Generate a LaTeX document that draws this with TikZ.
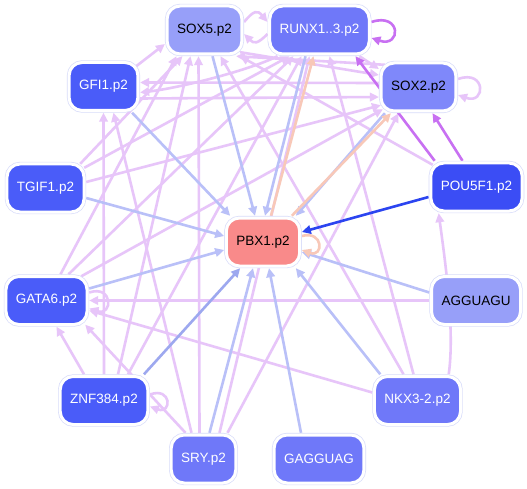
\documentclass[tikz,border=0pt]{standalone}
\usepackage{fontspec}
\setmainfont{Liberation Sans}
\usetikzlibrary{arrows.meta,calc}
\pgfdeclarelayer{bg}
\pgfdeclarelayer{edges}
\pgfsetlayers{bg,edges,main}
\definecolor{halo}{HTML}{D8DCFA}
\definecolor{clight}{HTML}{979FF9}
\definecolor{cmid}{HTML}{6F78F9}
\definecolor{csox}{HTML}{7F88FA}
\definecolor{cdark}{HTML}{4A5CF9}
\definecolor{cpou}{HTML}{3B4DF5}
\definecolor{cpbx}{HTML}{F98A8A}
\definecolor{elp}{HTML}{E7C5F9}
\definecolor{elb}{HTML}{B9C0F8}
\definecolor{emb}{HTML}{9DA8EF}
\definecolor{esp}{HTML}{C870F2}
\definecolor{epe}{HTML}{F8C8B8}
\definecolor{edb}{HTML}{2B44F0}
\begin{document}
\begin{tikzpicture}[x=1pt,y=-1pt,
  nd/.style={rounded corners=13pt, minimum height=48pt, inner xsep=10pt, inner ysep=0pt,
    draw=white, line width=3pt, preaction={draw=halo, line width=4.4pt}, outer sep=2.2pt,
    font=\fontsize{13.5}{16}\selectfont},
  ed/.style={line width=2.6pt, -{Triangle[length=9pt,width=8.5pt]}},
  lp/.style={ed, draw=elp},
  lb/.style={ed, draw=elb},
  mb/.style={ed, draw=emb},
  sp/.style={ed, draw=esp},
  pe/.style={ed, draw=epe},
  db/.style={ed, draw=edb}]
\useasboundingbox (0,0) rectangle (527,489);
\begin{pgfonlayer}{bg}
\fill[white] (0,0) rectangle (527,489);
\end{pgfonlayer}
\node[nd, fill=clight, text=black] (s5) at (204.5,30) {SOX5.p2};
\node[nd, fill=cmid, text=white] (ru) at (319.5,30) {RUNX1..3.p2};
\node[nd, fill=csox, text=black] (s2) at (418.5,87) {SOX2.p2};
\node[nd, fill=cdark, text=white] (gf) at (103.5,86.5) {GFI1.p2};
\node[nd, fill=cdark, text=white] (tg) at (45.5,188) {TGIF1.p2};
\node[nd, fill=cpou, text=white] (po) at (476.5,187) {POU5F1.p2};
\node[nd, fill=cpbx, text=black] (pb) at (263,242) {PBX1.p2};
\node[nd, fill=cdark, text=white] (ga) at (46.5,300.5) {GATA6.p2};
\node[nd, fill=clight, text=black] (ag) at (476,300.5) {AGGUAGU};
\node[nd, fill=cdark, text=white] (zn) at (104,400.5) {ZNF384.p2};
\node[nd, fill=cmid, text=white] (nk) at (417.5,400.5) {NKX3-2.p2};
\node[nd, fill=cmid, text=white] (sr) at (203.5,459) {SRY.p2};
\node[nd, fill=cmid, text=white] (gg) at (319,459) {GAGGUAG};
\begin{pgfonlayer}{edges}
% light purple
\draw[lp] ($(s5.east)+(0,-8)$) .. controls +(10,-12) and +(-10,-12) .. ($(ru.west)+(0,-8)$);
\draw[lp] ($(ru.west)+(0,4)$) .. controls +(-10,10) and +(10,10) .. ($(s5.east)+(0,4)$);
\draw[lp] ($(gf.north east)+(-4,6)$) -- ($(s5.west)+(0,14)$);
\draw[lp] ($(gf.east)+(0,12)$) -- ($(s2.west)+(0,10)$);
\draw[lp] ($(s2.west)+(0,-4)$) -- ($(gf.east)+(0,-4)$);
\draw[lp] ($(ru.south west)+(10,0)$) .. controls (250,70) and (180,88) .. ($(gf.east)+(0,6)$);
\draw[lp] ($(s5.south east)+(-4,-4)$) -- ($(s2.west)+(0,-12)$);
\draw[lp] ($(s2.north west)+(6,4)$) -- ($(s5.south east)+(-8,0)$);
\draw[lp] ($(ru.south east)+(-12,0)$) -- ($(s2.west)+(0,-18)$);
\draw[lp] ($(s2.east)+(0,-8)$) .. controls +(28,-10) and +(28,10) .. ($(s2.east)+(0,8)$);
\draw[lp] ($(tg.north east)+(-6,2)$) -- ($(s5.south)+(-22,0)$);
\draw[lp] ($(tg.north east)+(-2,6)$) -- ($(ru.south)+(-30,0)$);
\draw[lp] ($(tg.east)+(0,-6)$) -- ($(s2.south west)+(2,-8)$);
\draw[lp] ($(ga.north)+(14,0)$) -- ($(s5.south)+(-28,0)$);
\draw[lp] ($(ga.north)+(22,0)$) -- ($(ru.south)+(-26,0)$);
\draw[lp] ($(ga.north east)+(-8,2)$) -- ($(s2.south west)+(4,-4)$);
\draw[lp] ($(ga.east)+(0,-8)$) .. controls +(24,-8) and +(24,8) .. ($(ga.east)+(0,8)$);
\draw[lp] ($(zn.north)+(14,0)$) -- ($(s5.south)+(-14,0)$);
\draw[lp] ($(zn.north)+(24,0)$) -- ($(ru.south)+(-18,0)$);
\draw[lp] (zn.north) -- (gf.south);
\draw[lp] ($(zn.north)+(-20,0)$) -- ($(ga.south)+(10,0)$);
\draw[lp] ($(zn.east)+(0,-6)$) .. controls +(22,-8) and +(22,8) .. ($(zn.east)+(0,6)$);
\draw[lp] ($(sr.north)+(-18,0)$) -- ($(ga.south east)+(-4,-2)$);
\draw[lp] ($(sr.north)+(-12,0)$) -- ($(gf.south)+(10,0)$);
\draw[lp] ($(sr.north)+(-4,0)$) -- ($(s5.south)+(-6,0)$);
\draw[lp] ($(sr.north)+(16,0)$) -- ($(ru.south)+(-10,0)$);
\draw[lp] ($(sr.north)+(24,0)$) -- ($(s2.south)+(-20,0)$);
\draw[lp] ($(nk.north)+(-14,0)$) -- ($(s5.south)+(16,0)$);
\draw[lp] ($(nk.north)+(-4,0)$) -- ($(ru.south)+(10,0)$);
\draw[lp] ($(nk.west)+(0,-8)$) -- ($(ga.east)+(0,10)$);
\draw[lp] ($(nk.north east)+(-14,0)$) .. controls (455,330) and (445,260) .. ($(po.south west)+(10,0)$);
\draw[lp] (ag.west) -- (ga.east);
\draw[lp] ($(po.north west)+(4,4)$) -- ($(s5.south east)+(-4,0)$);
% light blue into PBX1
\draw[lb] ($(s5.south)+(8,0)$) -- ($(pb.north)+(-8,0)$);
\draw[lb] ($(ru.south)+(-14,0)$) -- ($(pb.north)+(2,0)$);
\draw[lb] ($(s2.south west)+(6,0)$) -- ($(pb.north east)+(-6,0)$);
\draw[lb] ($(gf.south east)+(-8,0)$) -- ($(pb.north west)+(6,0)$);
\draw[lb] ($(tg.east)+(0,10)$) -- ($(pb.west)+(0,-6)$);
\draw[lb] ($(ga.east)+(0,-12)$) -- ($(pb.west)+(0,8)$);
\draw[mb] ($(zn.north east)+(-6,0)$) -- ($(pb.south west)+(16,0)$);
\draw[lb] ($(sr.north)+(6,0)$) -- ($(pb.south)+(-10,0)$);
\draw[lb] ($(gg.north)+(-18,0)$) -- ($(pb.south)+(6,0)$);
\draw[lb] ($(nk.north west)+(8,0)$) -- ($(pb.south east)+(-6,0)$);
\draw[lb] ($(ag.west)+(0,-8)$) -- ($(pb.east)+(0,10)$);
% dark blue
\draw[db] ($(po.west)+(0,10)$) -- ($(pb.east)+(0,-10)$);
% peach
\draw[pe] ($(pb.north)+(8,0)$) -- ($(ru.south)+(-6,0)$);
\draw[pe] ($(pb.north east)+(-10,0)$) -- ($(s2.south west)+(12,0)$);
\draw[pe] ($(pb.east)+(0,-6)$) .. controls +(22,-6) and +(22,8) .. ($(pb.east)+(0,8)$);
% strong purple
\draw[sp] ($(po.north)+(-14,0)$) -- ($(s2.south)+(14,0)$);
\draw[sp] ($(po.north west)+(6,0)$) -- ($(ru.south east)+(-16,0)$);
\draw[sp] ($(ru.east)+(0,-8)$) .. controls +(30,-10) and +(30,10) .. ($(ru.east)+(0,8)$);
\end{pgfonlayer}
\end{tikzpicture}
\end{document}
